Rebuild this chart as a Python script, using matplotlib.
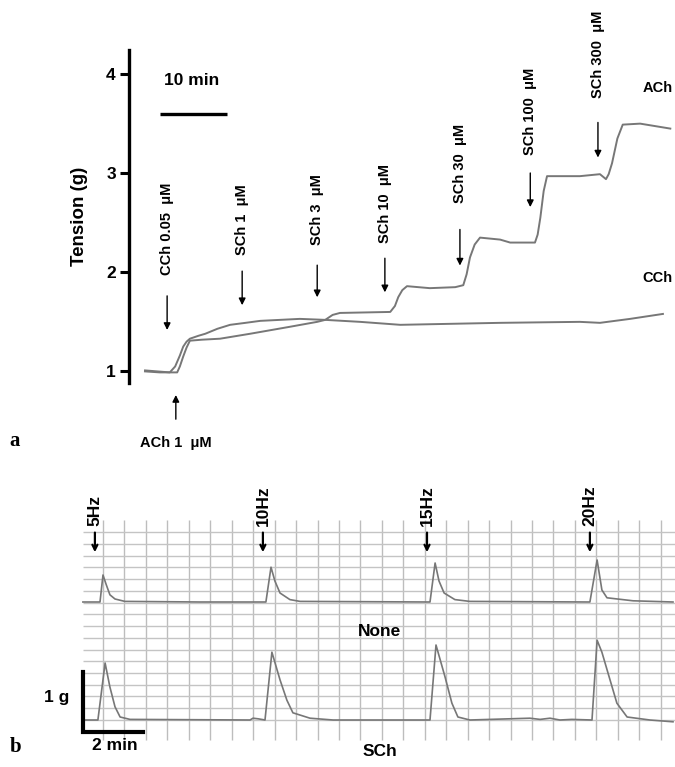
import matplotlib
matplotlib.use('Agg')
import matplotlib.pyplot as plt
import numpy as np

plt.rcParams['font.family'] = ['Liberation Sans', 'DejaVu Sans']
plt.rcParams['font.weight'] = 'bold'

# ---- panel a: cumulative tension traces (time in min, tension in g)
ach_time = [0, 2.2, 4.8, 5.2, 5.7, 6.2, 6.7, 8.5, 11.2, 15.7, 21.6, 25.7, 26.9, 28.0, 29.1,
            36.6, 37.3, 37.8, 38.4, 39.1, 42.5, 46.3, 47.5, 48.0, 48.5, 49.2, 50.0, 53.0,
            54.5, 58.2, 58.6, 59.0, 59.5, 60.0, 64.9, 67.9, 68.8, 69.2, 69.7, 70.5, 71.3,
            73.9, 78.4]
ach_tension = [1.0, 0.99, 0.99, 1.05, 1.15, 1.24, 1.31, 1.32, 1.33, 1.38, 1.45, 1.50, 1.52,
               1.57, 1.59, 1.60, 1.66, 1.75, 1.82, 1.86, 1.84, 1.85, 1.87, 1.98, 2.15, 2.28,
               2.35, 2.33, 2.30, 2.30, 2.38, 2.55, 2.82, 2.97, 2.97, 2.99, 2.94, 2.99, 3.10,
               3.35, 3.49, 3.50, 3.45]
cch_time = [0, 3.7, 4.5, 5.2, 5.7, 6.2, 6.7, 8.0, 9.0, 10.8, 12.7, 15.0, 17.2, 23.1, 26.9,
            32.1, 38.1, 45.5, 53.0, 64.9, 67.9, 72.4, 77.3]
cch_tension = [1.01, 0.99, 1.05, 1.16, 1.25, 1.30, 1.33, 1.36, 1.38, 1.43, 1.47, 1.49, 1.51,
               1.53, 1.52, 1.50, 1.47, 1.48, 1.49, 1.50, 1.49, 1.53, 1.58]

dose_labels = ['CCh 0.05  μM', 'SCh 1  μM', 'SCh 3  μM', 'SCh 10  μM',
               'SCh 30  μM', 'SCh 100  μM', 'SCh 300  μM']
dose_times = [3.3, 14.5, 25.7, 35.8, 47.0, 57.5, 67.6]
ach_dose_time = 4.6

# layout of the dose markers (g units on the axis)
label_bottom = [1.97, 2.17, 2.28, 2.30, 2.70, 3.18, 3.76]
arrow_top = [1.79, 2.04, 2.10, 2.17, 2.46, 3.03, 3.54]
arrow_tip = [1.39, 1.64, 1.72, 1.77, 2.04, 2.63, 3.13]

# ---- panel b: field stimulation twitches (time in min, tension above baseline in g)
none_time = [-0.07, 0.5, 0.6, 0.7, 0.83, 1.0, 1.33, 3.83, 6.03, 6.2, 6.33, 6.5, 6.83, 7.17,
             11.5, 11.67, 11.8, 11.97, 12.33, 12.83, 16.83, 17.07, 17.23, 17.4, 18.27, 19.6]
none_tension = [0.0, 0.0, 0.45, 0.30, 0.12, 0.05, 0.01, 0.0, 0.0, 0.58, 0.35, 0.15, 0.04,
                0.01, 0.0, 0.65, 0.35, 0.15, 0.04, 0.01, 0.0, 0.70, 0.20, 0.07, 0.02, 0.0]
sch_time = [-0.07, 0.43, 0.67, 0.83, 1.0, 1.17, 1.5, 5.5, 5.6, 5.77, 6.0, 6.23, 6.5, 6.73,
            6.93, 7.5, 8.27, 11.5, 11.7, 12.0, 12.23, 12.43, 12.83, 14.83, 15.17, 15.5,
            15.83, 16.23, 16.9, 17.07, 17.23, 17.5, 17.73, 18.07, 18.83, 19.6]
sch_tension = [0.0, 0.0, 0.95, 0.55, 0.22, 0.05, 0.01, 0.0, 0.03, 0.02, 0.0, 1.13, 0.67,
               0.33, 0.12, 0.03, 0.0, 0.0, 1.25, 0.72, 0.28, 0.05, 0.0, 0.03, 0.01, 0.03,
               0.0, 0.01, 0.0, 1.33, 1.13, 0.67, 0.28, 0.05, 0.0, -0.03]
freq_labels = ['5Hz', '10Hz', '15Hz', '20Hz']
freq_times = [0.33, 5.93, 11.4, 16.83]

trace_gray = '#777777'

fig = plt.figure(figsize=(6.75, 7.67), dpi=100)

# panel a
ax = fig.add_axes([129 / 675, (767 - 383) / 767, 546 / 675, 333 / 767])
ax.plot(cch_time, cch_tension, color=trace_gray, lw=1.4)
ax.plot(ach_time, ach_tension, color=trace_gray, lw=1.4)
ax.set_xlim(-2.39, 79.1)
ax.set_ylim(0.883, 4.243)
ax.set_yticks([1, 2, 3, 4])
ax.set_yticklabels(['1', '2', '3', '4'], fontsize=12.5, fontweight='bold')
ax.tick_params(axis='y', length=6.5, width=2.2, pad=3)
ax.set_xticks([])
for side in ['top', 'right', 'bottom']:
    ax.spines[side].set_visible(False)
ax.spines['left'].set_linewidth(2.4)
ax.set_ylabel('Tension (g)', fontsize=13.5, fontweight='bold', labelpad=13)

for lab, t, yb, ya, yt in zip(dose_labels, dose_times, label_bottom, arrow_top, arrow_tip):
    ax.text(t, yb, lab, rotation=90, ha='center', va='bottom', fontsize=10.5,
            fontweight='bold')
    ax.annotate('', xy=(t, yt), xytext=(t, ya),
                arrowprops=dict(arrowstyle='-|>', color='black', lw=1.0, mutation_scale=10))

ax.annotate('', xy=(ach_dose_time, 0.79), xytext=(ach_dose_time, 0.49),
            arrowprops=dict(arrowstyle='-|>', color='black', lw=1.0, mutation_scale=10),
            annotation_clip=False)
ax.text(ach_dose_time, 0.28, 'ACh 1  μM', ha='center', va='center', fontsize=10.5,
        fontweight='bold')

# 10 min scale bar
ax.plot([2.24, 12.24], [3.60, 3.60], color='black', lw=2.4, solid_capstyle='butt')
ax.text(6.9, 3.94, '10 min', ha='center', va='center', fontsize=12.5, fontweight='bold')

ax.text(74.3, 3.86, 'ACh', ha='left', va='center', fontsize=10.5, fontweight='bold')
ax.text(74.3, 1.94, 'CCh', ha='left', va='center', fontsize=10.5, fontweight='bold')

fig.text(15 / 675, 1 - 441 / 767, 'a', family='Liberation Serif', fontsize=15,
         fontweight='bold', ha='center', va='center')

# panel b
bx = fig.add_axes([0, 0, 1, 297 / 767])
bx.set_xlim(-85 / 30, 590 / 30)
bx.set_ylim(-47 / 60, 250 / 60)
bx.axis('off')

# chart paper grid
grid_x = 0.6 + 0.715 * np.arange(27)
grid_y = 3.133 - 0.1958 * np.arange(17)
bx.vlines(grid_x, -0.33, 3.33, color='#bdbdbd', lw=1.0, zorder=1)
bx.hlines(grid_y, -0.07, 19.67, color='#c4c4c4', lw=1.0, zorder=1)

upper_offset = 118 / 60
bx.plot(none_time, np.array(none_tension) + upper_offset, color=trace_gray, lw=1.2, zorder=2)
bx.plot(sch_time, sch_tension, color=trace_gray, lw=1.2, zorder=2)

for lab, t in zip(freq_labels, freq_times):
    bx.annotate('', xy=(t, 2.75), xytext=(t, 3.17),
                arrowprops=dict(arrowstyle='->', color='black', lw=1.6, mutation_scale=9))
    bx.text(t, 3.24, lab, rotation=90, ha='center', va='bottom', fontsize=12.5,
            fontweight='bold')

# 1 g / 2 min scale bar
bx.plot([-0.067, -0.067, 1.933], [0.8, -0.2, -0.2], color='black', lw=3,
        solid_joinstyle='miter', zorder=3)
bx.text(-0.93, 0.37, '1 g', ha='center', va='center', fontsize=12.5, fontweight='bold')
bx.text(1.0, -0.42, '2 min', ha='center', va='center', fontsize=12.5, fontweight='bold')

bx.text(9.83, 1.47, 'None', ha='center', va='center', fontsize=12.5, fontweight='bold')
bx.text(9.83, -0.53, 'SCh', ha='center', va='center', fontsize=12.5, fontweight='bold')

fig.text(16 / 675, 1 - 747 / 767, 'b', family='Liberation Serif', fontsize=15,
         fontweight='bold', ha='center', va='center')

fig.savefig('out.png', dpi=100)
